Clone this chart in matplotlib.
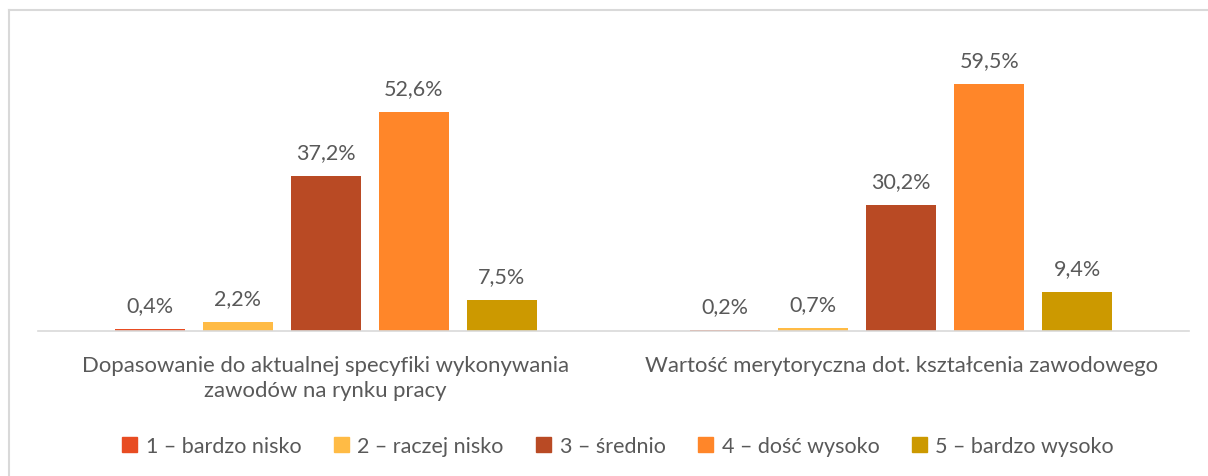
import matplotlib
matplotlib.use("Agg")
import matplotlib.pyplot as plt
from matplotlib.lines import Line2D
import numpy as np

categories = ["Dopasowanie do aktualnej specyfiki wykonywania\nzawodów na rynku pracy",
              "Wartość merytoryczna dot. kształcenia zawodowego"]
series_names = ["1 – bardzo nisko", "2 – raczej nisko", "3 – średnio",
                "4 – dość wysoko", "5 – bardzo wysoko"]
series_values = [
    [0.4, 0.2],
    [2.2, 0.7],
    [37.2, 30.2],
    [52.6, 59.5],
    [7.5, 9.4],
]
colors = ["#E84C22", "#FFBB45", "#B94A24", "#FF8629", "#CC9900"]

plt.rcParams['font.family'] = ['Lato', 'DejaVu Sans']
txt = "#595959"

W, H = 1208, 477
fig = plt.figure(figsize=(W / 100, H / 100), dpi=100)
ax = fig.add_axes([38 / W, 1 - 332 / H, (1189 - 38) / W, 291 / H])

x = np.arange(len(categories))
slot = 88 / 575.5
bw = 70 / 575.5
for i, (name, vals, c) in enumerate(zip(series_names, series_values, colors)):
    xs = x + (i - 2) * slot
    ax.bar(xs, vals, bw, color=c, label=name, linewidth=0)
    for xi, v in zip(xs, vals):
        ax.annotate(f"{v:.1f}%".replace(".", ","), (xi, v), xytext=(0, 10),
                    textcoords="offset points", ha="center", va="bottom",
                    fontsize=15.5, color=txt)

ax.set_xlim(-0.5, 1.5)
ax.set_ylim(0, 70)
ax.set_yticks([])
for s in ["top", "right", "left"]:
    ax.spines[s].set_visible(False)
ax.spines["bottom"].set_color("#D9D9D9")
ax.spines["bottom"].set_linewidth(1.2)
ax.set_xticks(x)
ax.set_xticklabels(categories, fontsize=15.9, color=txt, linespacing=1.35)
ax.tick_params(axis="x", length=0, pad=17)

handles = [plt.Rectangle((0, 0), 1, 1, color=c) for c in colors]
fig.legend(handles, series_names, loc="center", bbox_to_anchor=(618 / W, 1 - 447 / H),
           ncol=5, frameon=False, fontsize=15.5, labelcolor=txt,
           handlelength=0.7, handleheight=0.7, handletextpad=0.4, columnspacing=1.5)

# outer frame (partial, top and left)
fig.add_artist(Line2D([9 / W, 9 / W], [0, 1 - 11 / H], transform=fig.transFigure,
                      color="#D9D9D9", lw=1.5))
fig.add_artist(Line2D([9 / W, 1], [1 - 11 / H, 1 - 11 / H], transform=fig.transFigure,
                      color="#D9D9D9", lw=1.5))

fig.savefig("out.png", dpi=100)
